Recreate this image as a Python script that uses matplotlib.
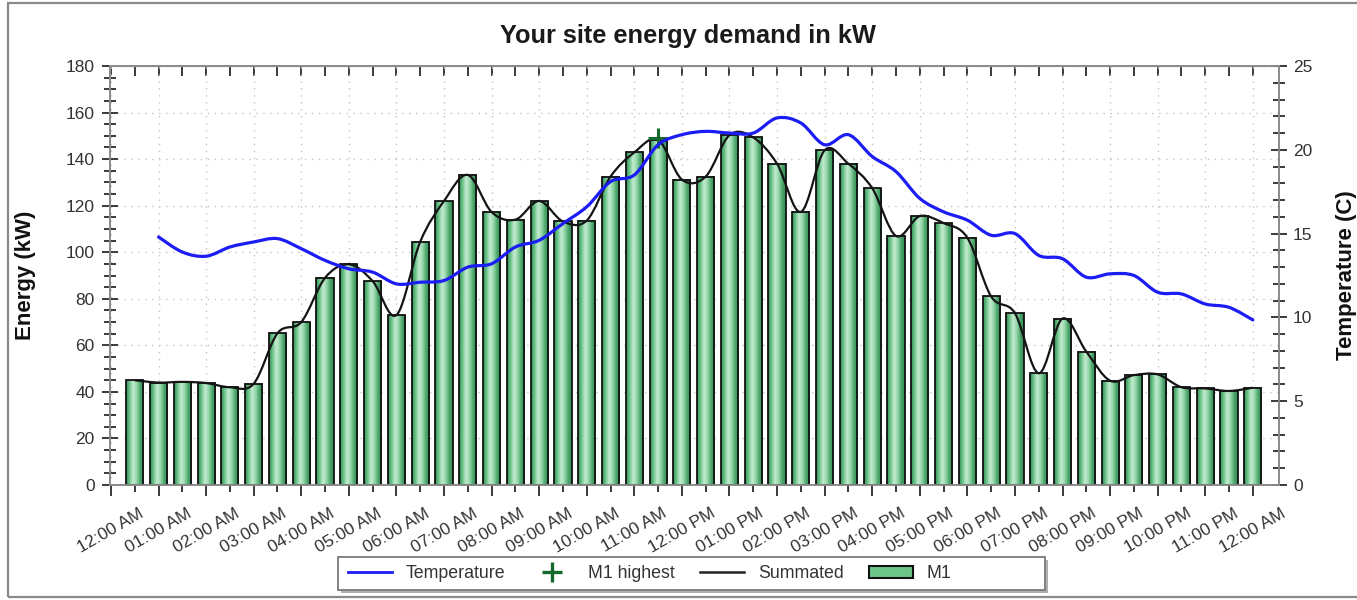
import matplotlib
matplotlib.use('Agg')
import matplotlib.pyplot as plt
import numpy as np
from matplotlib.path import Path
from matplotlib.patches import PathPatch, Rectangle
from matplotlib.lines import Line2D
from matplotlib.colors import LinearSegmentedColormap
from matplotlib.ticker import MultipleLocator

plt.rcParams['font.family'] = ['Liberation Sans', 'DejaVu Sans']

# ---------------- data ----------------
bar_times = ["00:30", "01:00", "01:30", "02:00", "02:30", "03:00", "03:30", "04:00",
             "04:30", "05:00", "05:30", "06:00", "06:30", "07:00", "07:30", "08:00",
             "08:30", "09:00", "09:30", "10:00", "10:30", "11:00", "11:30", "12:00",
             "12:30", "13:00", "13:30", "14:00", "14:30", "15:00", "15:30", "16:00",
             "16:30", "17:00", "17:30", "18:00", "18:30", "19:00", "19:30", "20:00",
             "20:30", "21:00", "21:30", "22:00", "22:30", "23:00", "23:30", "24:00"]
energy_kw = [45.0, 44.0, 44.3, 43.8, 42.0, 43.5, 65.2, 70.0,
             89.0, 94.8, 87.6, 73.0, 104.5, 122.0, 133.2, 117.3,
             114.0, 122.0, 113.2, 113.6, 132.5, 142.9, 148.3, 131.2,
             132.5, 150.3, 149.3, 138.0, 117.3, 143.8, 138.0, 127.5,
             107.0, 115.5, 112.5, 106.2, 81.0, 73.8, 48.0, 71.5,
             57.3, 44.8, 47.2, 47.5, 42.0, 41.5, 40.4, 41.8]

temp_times = ["01:00", "01:30", "02:00", "02:30", "03:00", "03:30", "04:00",
              "04:30", "05:00", "05:30", "06:00", "06:30", "07:00", "07:30", "08:00",
              "08:30", "09:00", "09:30", "10:00", "10:30", "11:00", "11:30", "12:00",
              "12:30", "13:00", "13:30", "14:00", "14:30", "15:00", "15:30", "16:00",
              "16:30", "17:00", "17:30", "18:00", "18:30", "19:00", "19:30", "20:00",
              "20:30", "21:00", "21:30", "22:00", "22:30", "23:00", "23:30", "24:00"]
temperature_c = [14.8, 13.9, 13.65, 14.2, 14.5, 14.7, 14.1,
                 13.4, 12.9, 12.7, 12.0, 12.1, 12.2, 13.0, 13.2,
                 14.2, 14.6, 15.6, 16.6, 18.1, 18.5, 20.3, 20.9,
                 21.1, 21.0, 21.0, 21.9, 21.6, 20.3, 20.9, 19.6,
                 18.7, 17.1, 16.3, 15.8, 14.9, 15.0, 13.7, 13.5,
                 12.4, 12.6, 12.5, 11.5, 11.4, 10.8, 10.6, 9.85]

highest_time = "11:30"
highest_kw = 149.0

hour_labels = ["12:00 AM", "01:00 AM", "02:00 AM", "03:00 AM", "04:00 AM", "05:00 AM",
               "06:00 AM", "07:00 AM", "08:00 AM", "09:00 AM", "10:00 AM", "11:00 AM",
               "12:00 PM", "01:00 PM", "02:00 PM", "03:00 PM", "04:00 PM", "05:00 PM",
               "06:00 PM", "07:00 PM", "08:00 PM", "09:00 PM", "10:00 PM", "11:00 PM",
               "12:00 AM"]


def to_hours(t):
    h, m = t.split(":")
    return int(h) + int(m) / 60.0


bx = np.array([to_hours(t) for t in bar_times])
tx = np.array([to_hours(t) for t in temp_times])

# ---------------- figure ----------------
W, H = 1357, 600
fig = plt.figure(figsize=(W / 100, H / 100), dpi=100)
fig.patch.set_facecolor('white')

# outer frame
fig.patches.append(Rectangle((8 / W, 3 / H), (W + 10 - 8) / W, (597 - 3) / H,
                             transform=fig.transFigure, fill=False,
                             edgecolor='#8a8a8a', linewidth=1.6, zorder=0))

L, R, T, B = 110, 1279, 66, 485
ax = fig.add_axes([L / W, 1 - B / H, (R - L) / W, (B - T) / H])
ax2 = ax.twinx()

spine_col = '#8c8c8c'
tick_col = '#3a3a3a'
txt_col = '#333333'

# bars with horizontal gradient
bar_w = 0.36
bars = ax.bar(bx, energy_kw, width=bar_w, facecolor='none', edgecolor='#111111',
              linewidth=1.3, zorder=3)
cmap = LinearSegmentedColormap.from_list(
    'cyl', ['#338f54', '#6cc68a', '#c6ecd2', '#93d6a8', '#4aa66b', '#2f8a4f'])
grad = np.linspace(0, 1, 64).reshape(1, -1)
for rect in bars:
    x0 = rect.get_x()
    w = rect.get_width()
    h = rect.get_height()
    ax.imshow(grad, extent=(x0, x0 + w, 0, h), aspect='auto', cmap=cmap,
              interpolation='bicubic', zorder=2)


# smooth curve rendering (Bezier path through the data points)
def smooth_path(xs, ys):
    pts = np.column_stack([xs, ys])
    n = len(pts)
    verts = [pts[0]]
    codes = [Path.MOVETO]
    for i in range(n - 1):
        p0 = pts[i - 1] if i > 0 else pts[i]
        p1 = pts[i]
        p2 = pts[i + 1]
        p3 = pts[i + 2] if i + 2 < n else pts[i + 1]
        c1 = p1 + (p2 - p0) / 6.0
        c2 = p2 - (p3 - p1) / 6.0
        verts += [c1, c2, p2]
        codes += [Path.CURVE4] * 3
    return Path(verts, codes)


ax.add_patch(PathPatch(smooth_path(bx, np.array(energy_kw)), fill=False,
                       edgecolor='#141414', linewidth=1.6, zorder=4))

ax.set_xlim(-0.02, 24.55)
ax.set_ylim(0, 180)

# grid
ax.set_axisbelow(True)
ax.grid(True, which='major', color='#c4c4c4', linestyle=(0, (1, 4)), linewidth=1.0)

# temperature line on right axis
ax2.add_patch(PathPatch(smooth_path(tx, np.array(temperature_c)), fill=False,
                        edgecolor='#1c1cf5', linewidth=2.3, zorder=5,
                        joinstyle='round', capstyle='round'))
ax2.set_ylim(0, 25)

# highest marker
ax.plot([to_hours(highest_time)], [highest_kw], marker='+', markersize=15,
        markeredgewidth=2.2, color='#16692c', linestyle='none', zorder=6)

# ticks
ax.set_xticks(np.arange(0, 25, 1))
ax.set_xticks(np.arange(0.5, 24.5, 1), minor=True)
ax.set_xticklabels(hour_labels, rotation=30, ha='center', fontsize=12.5, color=txt_col)
ax.tick_params(axis='x', which='major', direction='out', length=8, width=1.4,
               color=tick_col, pad=7)
ax.tick_params(axis='x', which='minor', direction='out', length=5, width=1.4,
               color=tick_col)

ax.yaxis.set_major_locator(MultipleLocator(20))
ax.yaxis.set_minor_locator(MultipleLocator(5))
ax.tick_params(axis='y', which='major', direction='inout', length=12, width=1.4,
               color=tick_col, labelsize=12.5, labelcolor=txt_col, pad=5)
ax.tick_params(axis='y', which='minor', direction='inout', length=8, width=1.4,
               color=tick_col)

ax2.yaxis.set_major_locator(MultipleLocator(5))
ax2.yaxis.set_minor_locator(MultipleLocator(1))
ax2.tick_params(axis='y', which='major', direction='inout', length=12, width=1.4,
                color=tick_col, labelsize=12.5, labelcolor=txt_col, pad=4)
ax2.tick_params(axis='y', which='minor', direction='inout', length=8, width=1.4,
                color=tick_col)

sec = ax.secondary_xaxis('top')
sec.set_xticks(np.arange(0, 25, 1))
sec.set_xticks(np.arange(0.5, 24.5, 1), minor=True)
sec.tick_params(axis='x', which='both', direction='in', length=7, width=1.4,
                color=tick_col, labeltop=False)
sec.spines['top'].set_color(spine_col)

for a in (ax, ax2):
    for s in a.spines.values():
        s.set_color(spine_col)
        s.set_linewidth(1.3)

# axis labels
ax.set_ylabel('Energy (kW)', fontsize=16, fontweight='bold', color='#111111')
ax.yaxis.set_label_coords(-0.0633, 0.5)
ax2.set_ylabel('Temperature (C)', fontsize=16, fontweight='bold', color='#111111',
               rotation=90)
ax2.yaxis.set_label_coords(1.0488, 0.5)

# title
fig.text(688.5 / W, 1 - 43 / H, 'Your site energy demand in kW', ha='center',
         va='baseline', fontsize=18.3, fontweight='bold', color='#1a1a1a')

# legend box with shadow
lx0, lx1, ly0, ly1 = 338, 1045, 557, 590
fig.patches.append(Rectangle(((lx0 + 3) / W, 1 - (ly1 + 3) / H), (lx1 - lx0) / W,
                             (ly1 - ly0) / H, transform=fig.transFigure,
                             facecolor='#b0b0b0', edgecolor='none', zorder=1))
fig.patches.append(Rectangle((lx0 / W, 1 - ly1 / H), (lx1 - lx0) / W,
                             (ly1 - ly0) / H, transform=fig.transFigure,
                             facecolor='white', edgecolor='#7a7a7a', linewidth=1.3,
                             zorder=2))

handles = [
    Line2D([], [], color='#1c1cf5', linewidth=2.0),
    Line2D([], [], color='#16692c', marker='+', markersize=15, markeredgewidth=2.4,
           linestyle='none'),
    Line2D([], [], color='#222222', linewidth=1.8),
    Rectangle((0, 0), 1, 1, facecolor='#6cc487', edgecolor='#111111', linewidth=1.5),
]
labels = ['Temperature', 'M1 highest', 'Summated', 'M1']
leg = fig.legend(handles, labels, loc='center left',
                 bbox_to_anchor=(348 / W, 1 - 573.5 / H), ncol=4, frameon=False,
                 fontsize=12.8, handlelength=2.47, handletextpad=0.79,
                 columnspacing=1.4, borderpad=0.0, borderaxespad=0.0)
for t in leg.get_texts():
    t.set_color(txt_col)
leg.set_zorder(3)

fig.savefig('out.png', dpi=100, facecolor='white')
